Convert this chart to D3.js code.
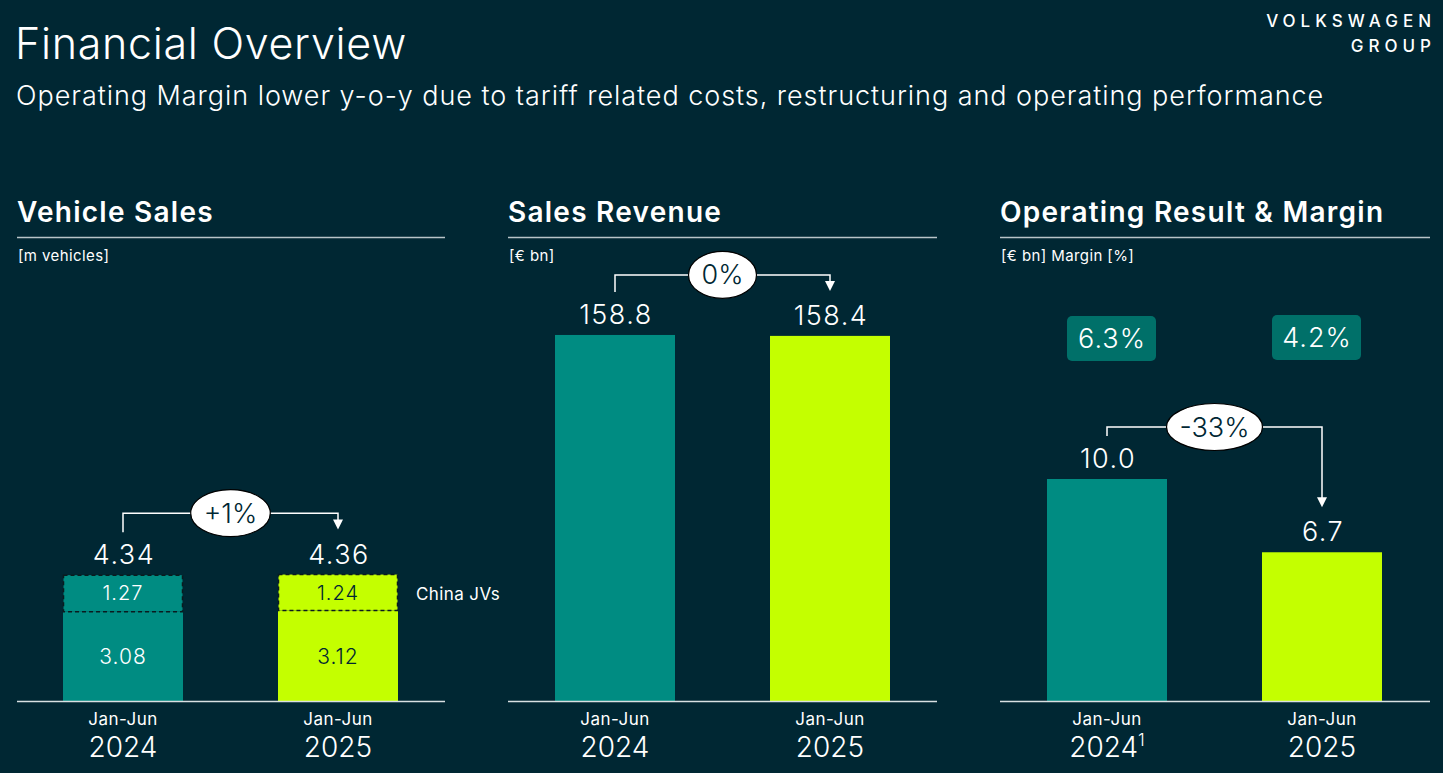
<!DOCTYPE html>
<html>
<head>
<meta charset="utf-8">
<script src="https://cdn.jsdelivr.net/npm/d3@7"></script>
<style>
  html, body { margin: 0; padding: 0; background: #002733; }
  svg { display: block; font-family: Inter, "Noto Sans", sans-serif; }
</style>
</head>
<body>
<div id="chart"></div>
<script>
// data
var periods = ["Jan-Jun 2024", "Jan-Jun 2025"];
var periodTop = ["Jan-Jun", "Jan-Jun"];
var periodYear = ["2024", "2025"];
var vehicleTotal = [4.34, 4.36];
var vehicleChinaJV = [1.27, 1.24];
var vehicleExJV = [3.08, 3.12];
var salesRevenue = [158.8, 158.4];
var operatingResult = [10.0, 6.7];
var operatingMargin = [6.3, 4.2];
var changeLabels = ["+1%", "0%", "-33%"];

var W = 1443, H = 773;
var bg = "#002733", teal = "#008c82", lime = "#c4ff00", boxTeal = "#007069", white = "#ffffff";
var baseY = 701;
var barW = 120;

var svg = d3.select("#chart").append("svg")
    .attr("width", W)
    .attr("height", H);

svg.append("rect").attr("width", W).attr("height", H).attr("fill", bg);

// header
svg.append("text")
    .text("Financial Overview")
    .attr("x", 15).attr("y", 59)
    .attr("fill", white)
    .style("font-size", "43px")
    .style("font-weight", 300)
    .style("letter-spacing", "0.7px");
svg.append("text")
    .text("Operating Margin lower y-o-y due to tariff related costs, restructuring and operating performance")
    .attr("x", 16).attr("y", 105)
    .attr("fill", white)
    .style("font-size", "27px")
    .style("font-weight", 300)
    .style("letter-spacing", "0.95px");

var logo = svg.append("g").attr("fill", white)
    .style("font-size", "17px")
    .style("font-weight", 500)
    .style("letter-spacing", "5px")
    .style("text-anchor", "end");
logo.append("text").text("VOLKSWAGEN").attr("x", 1436).attr("y", 27);
logo.append("text").text("GROUP").attr("x", 1436).attr("y", 52);

var panels = [
    {left: 17, right: 445, title: "Vehicle Sales", unit: "[m vehicles]",
     cx: [123, 338], domain: [0, 10], top: 411, values: vehicleTotal, bracketUp: 62},
    {left: 508, right: 937, title: "Sales Revenue", unit: "[\u20ac bn]",
     cx: [615, 830], domain: [0, 200], top: 240, values: salesRevenue, bracketUp: 60},
    {left: 1000, right: 1430, title: "Operating Result & Margin", unit: "[\u20ac bn] Margin [%]",
     cx: [1107, 1322], domain: [0, 15], top: 368, values: operatingResult, bracketUp: 52}
];

var fills = [teal, lime];
var inkOn = [white, bg];

panels.forEach(function(p, pi) {
    var g = svg.append("g");
    var x = d3.scalePoint().domain(periods).range(p.cx);
    var y = d3.scaleLinear().domain(p.domain).range([baseY, p.top]);

    g.append("text")
        .text(p.title)
        .attr("x", p.left).attr("y", 222)
        .attr("fill", white)
        .style("font-size", "28px")
        .style("font-weight", 600)
        .style("letter-spacing", "1.25px");
    g.append("line")
        .attr("x1", p.left).attr("x2", p.right)
        .attr("y1", 237.5).attr("y2", 237.5)
        .attr("stroke", "#b8c4c8").attr("stroke-width", 1.5);
    g.append("text")
        .text(p.unit)
        .attr("x", p.left + 1).attr("y", 261)
        .attr("fill", white)
        .style("font-size", "15px")
        .style("letter-spacing", "0.4px");

    if (pi === 0) {
        // stacked: ex-JV bottom, China JVs top with dashed border
        periods.forEach(function(d, i) {
            var x0 = x(d) - barW / 2;
            g.append("rect")
                .attr("x", x0).attr("width", barW)
                .attr("y", y(vehicleExJV[i])).attr("height", baseY - y(vehicleExJV[i]))
                .attr("fill", fills[i]);
            g.append("rect")
                .attr("x", x0 + 0.5).attr("width", barW - 1)
                .attr("y", y(vehicleTotal[i])).attr("height", y(vehicleExJV[i]) - y(vehicleTotal[i]))
                .attr("fill", fills[i])
                .attr("stroke", "#0b1a1e").attr("stroke-width", 1.5)
                .attr("stroke-dasharray", "4,3");
            g.append("text")
                .text(d3.format(".2f")(vehicleChinaJV[i]))
                .attr("x", x(d)).attr("y", (y(vehicleTotal[i]) + y(vehicleExJV[i])) / 2 + 7)
                .attr("fill", inkOn[i])
                .style("font-size", "20px").style("font-weight", 300)
                .style("letter-spacing", "1px")
                .style("text-anchor", "middle");
            g.append("text")
                .text(d3.format(".2f")(vehicleExJV[i]))
                .attr("x", x(d)).attr("y", (y(vehicleExJV[i]) + baseY) / 2 + 8)
                .attr("fill", inkOn[i])
                .style("font-size", "21px").style("font-weight", 300)
                .style("letter-spacing", "1px")
                .style("text-anchor", "middle");
        });
        g.append("text")
            .text("China JVs")
            .attr("x", 416).attr("y", y((vehicleTotal[1] + vehicleExJV[1]) / 2) + 7)
            .attr("fill", white)
            .style("font-size", "17px")
            .style("letter-spacing", "0.4px");
    } else {
        g.selectAll("rect.bar")
            .data(p.values)
            .enter().append("rect")
            .attr("class", "bar")
            .attr("x", function(d, i) { return x(periods[i]) - barW / 2; })
            .attr("width", barW)
            .attr("y", function(d) { return y(d); })
            .attr("height", function(d) { return baseY - y(d); })
            .attr("fill", function(d, i) { return fills[i]; });
    }

    // total labels
    var fmt = pi === 0 ? d3.format(".2f") : d3.format(".1f");
    p.values.forEach(function(v, i) {
        g.append("text")
            .text(fmt(v))
            .attr("x", x(periods[i]) + 1).attr("y", y(v) - 11)
            .attr("fill", white)
            .style("font-size", "27px").style("font-weight", 300)
            .style("letter-spacing", "1.5px")
            .style("text-anchor", "middle");
    });

    // margin boxes
    if (pi === 2) {
        var xm = d3.scalePoint().domain(periods).range([1111.5, 1316.5]);
        operatingMargin.forEach(function(m, i) {
            var cx = xm(periods[i]);
            g.append("rect")
                .attr("x", cx - 44.5).attr("y", 316 - i)
                .attr("width", 89).attr("height", 45)
                .attr("rx", 5)
                .attr("fill", boxTeal);
            g.append("text")
                .text(d3.format(".1f")(m) + "%")
                .attr("x", cx + 0.5).attr("y", 348 - i)
                .attr("fill", white)
                .style("font-size", "27px").style("font-weight", 300)
                .style("letter-spacing", "1px")
                .style("text-anchor", "middle");
        });
    }

    // change bracket
    var xa = x(periods[0]), xb = x(periods[1]);
    var yh = y(p.values[0]) - p.bracketUp;
    var ya = y(p.values[0]) - 43;
    var yb = y(p.values[1]) - 45;
    g.append("path")
        .attr("d", "M" + xa + "," + ya + "V" + yh + "H" + xb + "V" + (yb - 9))
        .attr("fill", "none")
        .attr("stroke", white).attr("stroke-width", 1.5);
    g.append("path")
        .attr("d", "M" + (xb - 5) + "," + (yb - 10) + "L" + (xb + 5) + "," + (yb - 10) + "L" + xb + "," + yb + "Z")
        .attr("fill", white);
    var mid = (xa + xb) / 2;
    var label = g.append("text")
        .text(changeLabels[pi])
        .attr("x", mid).attr("y", yh + 9.5)
        .attr("fill", bg)
        .style("font-size", "27px").style("font-weight", 300)
        .style("text-anchor", "middle");
    var tw = label.node().getComputedTextLength();
    g.insert("ellipse", "text:last-of-type")
        .attr("cx", mid).attr("cy", yh)
        .attr("rx", tw / 2 + 13).attr("ry", 23.5)
        .attr("fill", white)
        .attr("stroke", "#000").attr("stroke-width", 1.2);
    label.raise();

    // x axis
    g.append("line")
        .attr("x1", p.left).attr("x2", p.right)
        .attr("y1", baseY + 0.5).attr("y2", baseY + 0.5)
        .attr("stroke", "#d8e0e2").attr("stroke-width", 1.5);
    periods.forEach(function(d, i) {
        g.append("text")
            .text(periodTop[i])
            .attr("x", x(d)).attr("y", 725)
            .attr("fill", white)
            .style("font-size", "17px")
            .style("letter-spacing", "0.5px")
            .style("text-anchor", "middle");
        var yr = g.append("text")
            .attr("x", x(d)).attr("y", 757)
            .attr("fill", white)
            .style("font-size", "28px").style("font-weight", 300)
            .style("text-anchor", "middle")
            .text(periodYear[i]);
        if (pi === 2 && i === 0) {
            yr.append("tspan").text("1")
                .attr("dy", -11)
                .style("font-size", "17px");
        }
    });
});
</script>
</body>
</html>
